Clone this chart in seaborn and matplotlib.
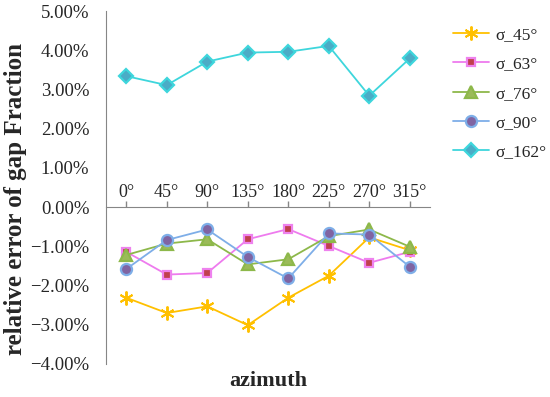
import matplotlib
matplotlib.use("Agg")
import matplotlib.pyplot as plt
from matplotlib.ticker import PercentFormatter, MultipleLocator
import seaborn as sns
import pandas as pd

azimuth = ["0°", "45°", "90°", "135°", "180°", "225°", "270°", "315°"]

# relative error in percent
sigma_45 = [-2.31, -2.70, -2.53, -3.01, -2.31, -1.75, -0.77, -1.10]
sigma_63 = [-1.14, -1.72, -1.68, -0.82, -0.56, -0.99, -1.42, -1.14]
sigma_76 = [-1.22, -0.93, -0.82, -1.46, -1.33, -0.74, -0.57, -1.01]
sigma_90 = [-1.58, -0.84, -0.57, -1.27, -1.82, -0.67, -0.70, -1.52]
sigma_162 = [3.34, 3.11, 3.71, 3.94, 3.96, 4.11, 2.84, 3.79]

series = [
    ("σ_45°", sigma_45),
    ("σ_63°", sigma_63),
    ("σ_76°", sigma_76),
    ("σ_90°", sigma_90),
    ("σ_162°", sigma_162),
]

# line colour, marker, face, edge, size
styles = {
    "σ_45°": ("#FFC000", (6, 2, 0), "#FFC000", "#FFC000", 10),
    "σ_63°": ("#EE7BEE", "s", "#C0404D", "#EE82EE", 6),
    "σ_76°": ("#8DB84A", "^", "#9BBB59", "#8DB84A", 8),
    "σ_90°": ("#7EAEE8", "o", "#8064A2", "#7EAEE8", 8),
    "σ_162°": ("#3ED6DC", "D", "#4BACC6", "#3ED6DC", 7),
}

sns.set_style("white")
plt.rcParams["font.family"] = ["Liberation Serif", "DejaVu Serif"]

fig = plt.figure(figsize=(5.5, 3.97), dpi=100)
ax = fig.add_axes([106 / 550, 1 - 364 / 397, 324 / 550, 353 / 397])

for name, vals in series:
    df = pd.DataFrame({"azimuth": azimuth, "err": vals})
    col, mk, fc, ec, ms = styles[name]
    sns.lineplot(data=df, x="azimuth", y="err", ax=ax, color=col, lw=1.3,
                 marker=mk, markersize=ms, markerfacecolor=fc,
                 markeredgecolor=ec, markeredgewidth=1.6 if mk != (6, 2, 0) else 1.4,
                 label=name, sort=False)

ax.set_ylim(-4, 5)
ax.set_xlim(-0.5, len(azimuth) - 0.5)
ax.yaxis.set_major_locator(MultipleLocator(1))
ax.yaxis.set_major_formatter(PercentFormatter(xmax=100, decimals=2))

ax.spines["right"].set_visible(False)
ax.spines["bottom"].set_visible(False)
ax.spines["top"].set_position(("data", 0))
ax.spines["top"].set_color("#868686")
ax.spines["left"].set_color("#868686")
ax.xaxis.set_ticks_position("top")
ax.tick_params(axis="x", direction="out", length=4, width=1, color="#868686",
               labelsize=13, pad=0.5)
ax.tick_params(axis="y", length=0, labelsize=13.5, pad=12)

ax.set_xlabel("azimuth", fontsize=16, fontweight="bold")
ax.xaxis.set_label_position("bottom")
ax.xaxis.set_label_coords(0.5, -0.02)
ax.set_ylabel("relative error of gap Fraction", fontsize=18, fontweight="bold")
ax.yaxis.set_label_coords(-0.245, 0.467)

ax.legend(loc="upper left", bbox_to_anchor=(446 / 550, 1 - 20 / 397),
          bbox_transform=fig.transFigure, frameon=False, fontsize=12.5,
          handlelength=2.1, labelspacing=0.76, handletextpad=0.35,
          borderaxespad=0)

fig.savefig("out.png", dpi=100)
